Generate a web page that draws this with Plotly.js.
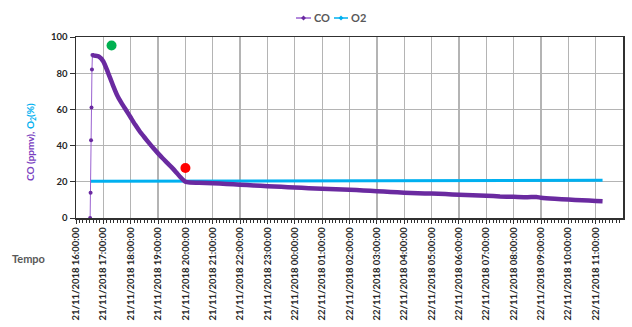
<!DOCTYPE html>
<html>
<head>
<meta charset="utf-8">
<script src="https://cdn.plot.ly/plotly-3.0.1.min.js"></script>
<style>html,body{margin:0;padding:0;background:#fff;}#chart{width:632px;height:327px;}</style>
</head>
<body>
<div id="chart"></div>
<script>
// ---- data ----
const coRiseTimes = ["2018-11-21 16:31","2018-11-21 16:32","2018-11-21 16:33","2018-11-21 16:34","2018-11-21 16:35","2018-11-21 16:36"];
const coRiseValues = [0, 14, 43, 61, 82, 90];

const coTimes = [
 "2018-11-21 16:36","2018-11-21 16:40","2018-11-21 16:50","2018-11-21 17:00","2018-11-21 17:10","2018-11-21 17:20",
 "2018-11-21 17:30","2018-11-21 17:40","2018-11-21 17:50","2018-11-21 18:00","2018-11-21 18:10","2018-11-21 18:20",
 "2018-11-21 18:30","2018-11-21 18:40","2018-11-21 18:50","2018-11-21 19:00","2018-11-21 19:10","2018-11-21 19:20",
 "2018-11-21 19:30","2018-11-21 19:40","2018-11-21 19:50","2018-11-21 20:00","2018-11-21 20:10","2018-11-21 20:30",
 "2018-11-21 21:00","2018-11-21 21:30","2018-11-21 22:00","2018-11-21 22:30","2018-11-21 23:00","2018-11-21 23:30",
 "2018-11-22 00:00","2018-11-22 00:30","2018-11-22 01:00","2018-11-22 01:30","2018-11-22 02:00","2018-11-22 02:30",
 "2018-11-22 03:00","2018-11-22 03:30","2018-11-22 04:00","2018-11-22 04:30","2018-11-22 05:00","2018-11-22 05:30",
 "2018-11-22 06:00","2018-11-22 06:30","2018-11-22 07:00","2018-11-22 07:30","2018-11-22 08:00","2018-11-22 08:30",
 "2018-11-22 08:50","2018-11-22 09:00","2018-11-22 09:30","2018-11-22 10:00","2018-11-22 10:30","2018-11-22 11:00",
 "2018-11-22 11:15"];
const coValues = [
 90, 89.7, 89.2, 86.5, 80.5, 74,
 68, 63.5, 59.5, 55.5, 51.5, 47.8,
 44.6, 41.5, 38.5, 35.7, 33, 30.5,
 28, 25.2, 22.3, 20, 19.6, 19.5,
 19.2, 18.8, 18.4, 18.0, 17.6, 17.2,
 16.9, 16.5, 16.2, 15.9, 15.6, 15.2,
 14.8, 14.4, 14.0, 13.7, 13.5, 13.2,
 12.9, 12.6, 12.3, 11.9, 11.7, 11.5,
 11.6, 11.2, 10.6, 10.2, 9.8, 9.4,
 9.2];

const o2Times = ["2018-11-21 16:31","2018-11-21 20:00","2018-11-22 00:00","2018-11-22 04:00","2018-11-22 08:00","2018-11-22 11:15"];
const o2Values = [20.3, 20.4, 20.6, 20.7, 20.8, 20.8];

const greenTime = ["2018-11-21 17:18"]; const greenValue = [95.3];
const redTime = ["2018-11-21 20:00"];   const redValue = [27.6];

const yTicks = [0, 20, 40, 60, 80, 100];
const xStart = "2018-11-21 16:00", xEnd = "2018-11-22 11:59:50";

// ---- chart ----
const PURPLE = "#6a2aa0", PURPLE_LIGHT = "#9a62d0", CYAN = "#00b0f0";
const FONT = "Lato, 'Open Sans', sans-serif";

const traces = [
  {x: o2Times, y: o2Values, type: "scatter", mode: "lines", name: "O2",
   line: {color: CYAN, width: 3}, showlegend: false},
  {x: coRiseTimes, y: coRiseValues, type: "scatter", mode: "lines+markers", name: "CO",
   line: {color: PURPLE_LIGHT, width: 1}, marker: {color: PURPLE, size: 4}, showlegend: false},
  {x: coTimes, y: coValues, type: "scatter", mode: "lines", name: "CO",
   line: {color: PURPLE, width: 4.5, shape: "spline", smoothing: 0.6}, showlegend: false},
  {x: greenTime, y: greenValue, type: "scatter", mode: "markers",
   marker: {color: "#00b050", size: 10}, showlegend: false},
  {x: redTime, y: redValue, type: "scatter", mode: "markers",
   marker: {color: "#ff0000", size: 10}, showlegend: false}
];

// plot area geometry in pixels (for legend placement)
const L = 76, R = 9, T = 37, B = 109, W = 632 - L - R, H = 327 - T - B;
const px = p => (p - L) / W;
const py = p => (327 - B - p) / H;

function diamond(cx, cy, s, color) {
  const dx = s / W, dy = s / H, x = px(cx), y = py(cy);
  return {type: "path", xref: "paper", yref: "paper",
    path: `M ${x-dx},${y} L ${x},${y+dy} L ${x+dx},${y} L ${x},${y-dy} Z`,
    fillcolor: color, line: {color: color, width: 0}};
}
const shapes = [
  {type: "line", xref: "paper", yref: "paper", x0: px(296), x1: px(311), y0: py(18), y1: py(18), line: {color: PURPLE_LIGHT, width: 1.5}},
  diamond(303.5, 18, 2.5, PURPLE),
  {type: "line", xref: "paper", yref: "paper", x0: px(334), x1: px(348), y0: py(18), y1: py(18), line: {color: CYAN, width: 1.5}},
  diamond(341, 18, 2.5, CYAN)
];

const annotations = [
  {xref: "paper", yref: "paper", x: px(312), y: py(18), xanchor: "left", yanchor: "middle", showarrow: false,
   text: "<b>CO</b>", font: {family: FONT, size: 11, color: "#595959"}},
  {xref: "paper", yref: "paper", x: px(349), y: py(18), xanchor: "left", yanchor: "middle", showarrow: false,
   text: "<b>O2</b>", font: {family: FONT, size: 11, color: "#595959"}},
  {xref: "paper", yref: "paper", x: px(30), y: py(142), xanchor: "center", yanchor: "middle", showarrow: false, textangle: -90,
   text: "<b><span style='color:#7a3fc0'>CO (ppmv), </span><span style='color:" + CYAN + "'>O<sub>2</sub>(%)</span></b>",
   font: {family: FONT, size: 10, color: "#7a3fc0"}},
  {xref: "paper", yref: "paper", x: px(28), y: py(258), xanchor: "center", yanchor: "middle", showarrow: false,
   text: "<b>Tempo</b>", font: {family: FONT, size: 11, color: "#595959"}}
];

const layout = {
  width: 632, height: 327,
  margin: {l: L, r: R, t: T, b: B, pad: 0},
  paper_bgcolor: "#fff", plot_bgcolor: "#fff",
  showlegend: false,
  xaxis: {
    type: "date", range: [xStart, xEnd], tick0: xStart, dtick: 3600000,
    tickformat: "%d/%m/%Y %H:%M:%S", tickangle: -90,
    tickfont: {family: FONT, size: 9.5, color: "#262626", weight: "bold"},
    showgrid: true, gridcolor: "#b4b4b4", gridwidth: 1.3,
    showline: true, linecolor: "#303030", linewidth: 1.5, mirror: true,
    ticks: "outside", ticklen: 4, tickcolor: "#303030",
    minor: {dtick: 450000, ticks: "outside", ticklen: 3, tickcolor: "#303030", showgrid: false},
    zeroline: false, fixedrange: true
  },
  yaxis: {
    range: [0, 100], tickvals: yTicks, ticktext: yTicks.map(String),
    tickfont: {family: FONT, size: 9.5, color: "#262626", weight: "bold"},
    showgrid: true, gridcolor: "#b4b4b4", gridwidth: 1.3,
    showline: true, linecolor: "#303030", linewidth: 1.5, mirror: true,
    ticks: "outside", ticklen: 5, tickcolor: "#303030",
    zeroline: false, fixedrange: true
  },
  shapes: shapes,
  annotations: annotations
};

Plotly.newPlot("chart", traces, layout, {displayModeBar: false, staticPlot: true});
</script>
</body>
</html>
